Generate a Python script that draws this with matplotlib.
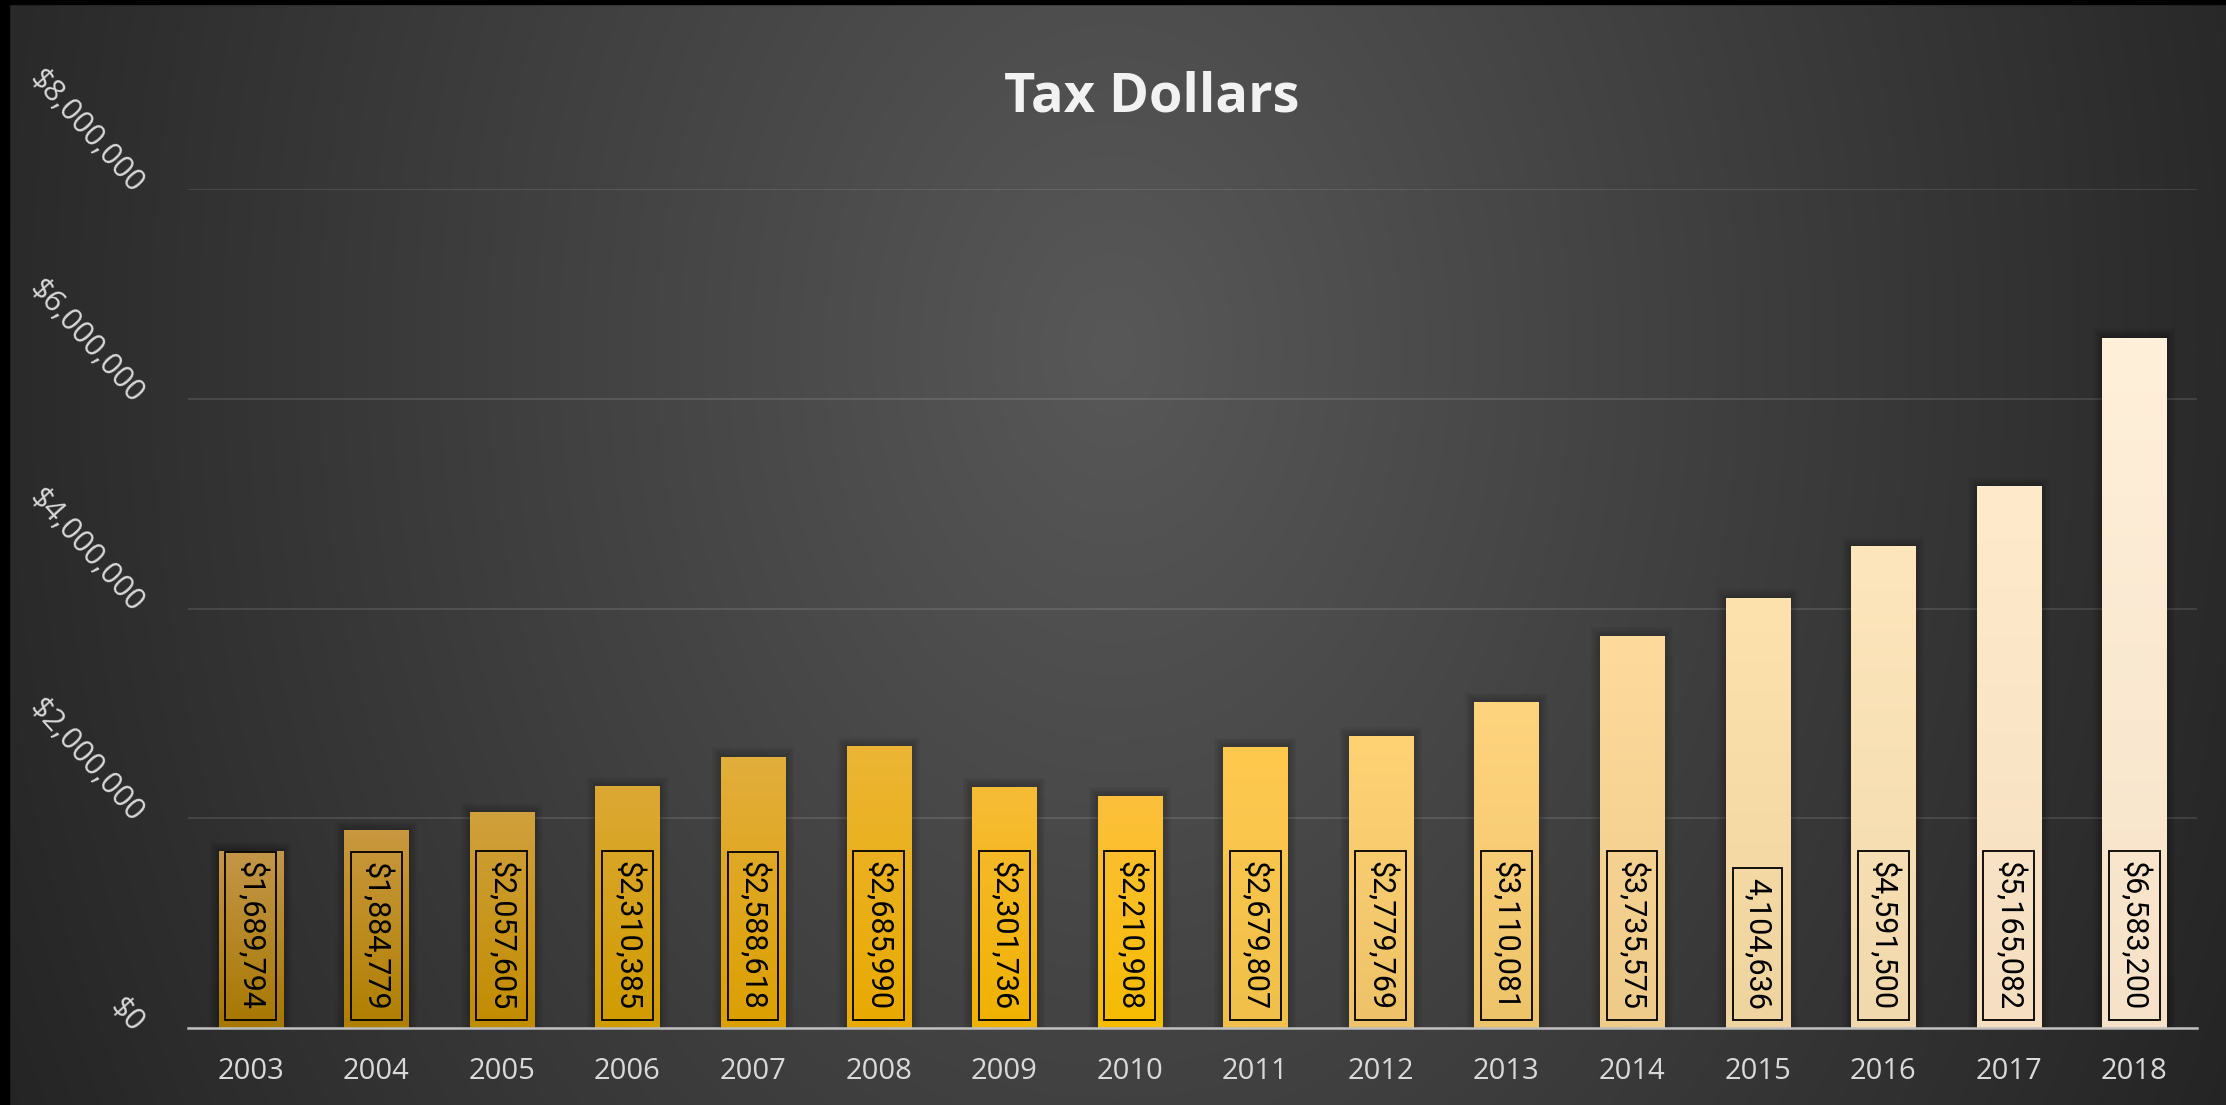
import numpy as np
import matplotlib
matplotlib.use('Agg')
import matplotlib.pyplot as plt
from matplotlib import font_manager
from matplotlib.patches import Rectangle
from matplotlib.colors import to_rgb

# ---------------- data ----------------
years = ['2003', '2004', '2005', '2006', '2007', '2008', '2009', '2010',
         '2011', '2012', '2013', '2014', '2015', '2016', '2017', '2018']
tax_dollars = [1689794, 1884779, 2057605, 2310385, 2588618, 2685990, 2301736, 2210908,
               2679807, 2779769, 3110081, 3735575, 4104636, 4591500, 5165082, 6583200]
bar_labels = ['$1,689,794', '$1,884,779', '$2,057,605', '$2,310,385', '$2,588,618',
              '$2,685,990', '$2,301,736', '$2,210,908', '$2,679,807', '$2,779,769',
              '$3,110,081', '$3,735,575', '4,104,636', '$4,591,500', '$5,165,082',
              '$6,583,200']
y_ticks = [0, 2000000, 4000000, 6000000, 8000000]
y_tick_labels = ['$0', '$2,000,000', '$4,000,000', '$6,000,000', '$8,000,000']
title = 'Tax Dollars'

# ---------------- styles ----------------
top_colors = ['#c4964a', '#c9983f', '#d0a03c', '#dca834', '#e2ae3c', '#ecb534',
              '#f7bc36', '#fdc03c', '#ffc94e', '#ffd274', '#ffd47e', '#fedb9d',
              '#fee2ae', '#fee6bc', '#ffeacc', '#fff0da']
bottom_colors = ['#a67800', '#b07f00', '#c28c00', '#d09c00', '#dca000', '#e8aa00',
                 '#f0b200', '#f5bc00', '#f0c04a', '#eec268', '#eec46a', '#eecb88',
                 '#f0d4a0', '#f2d9ad', '#f5dfc0', '#f6e2c8']


def has_font(name):
    try:
        font_manager.findfont(font_manager.FontProperties(family=name),
                              fallback_to_default=False)
        return True
    except Exception:
        return False


if has_font('Liberation Sans Narrow'):
    lab_font, lab_size = 'Liberation Sans Narrow', 26.5
else:
    lab_font, lab_size = 'Roboto', 22

W, H, DPI = 2226, 1105, 100
fig = plt.figure(figsize=(W / DPI, H / DPI), dpi=DPI)

# ---------- background radial gradient ----------
bg = fig.add_axes([0, 0, 1, 1])
bg.set_axis_off()
yy, xx = np.mgrid[0:H, 0:W]
d = np.sqrt((xx - 1113.0) ** 2 + ((yy - 350.0) * 0.74) ** 2) / 1083.0
v = np.clip(88 - 45 * d, 34, 90) / 255.0
bg.imshow(np.dstack([v, v, v]), extent=(0, 1, 0, 1), origin='upper',
          aspect='auto', interpolation='bilinear')
bg.set_xlim(0, 1)
bg.set_ylim(0, 1)
bg.add_patch(Rectangle((0, 0), 9 / W, 1, color='black', transform=bg.transAxes))
bg.add_patch(Rectangle((0, 1 - 4 / H), 1, 4 / H, color='black', transform=bg.transAxes))

# ---------- main axes ----------
ax_left, ax_right, ax_top, ax_bottom = 188, 2197, 189, 1028
ax = fig.add_axes([ax_left / W, 1 - ax_bottom / H, (ax_right - ax_left) / W,
                   (ax_bottom - ax_top) / H])
ax.set_facecolor('none')

x = np.arange(len(years))
bar_w = 0.51
px_x = 16 / (ax_right - ax_left)
px_y = 8e6 / (ax_bottom - ax_top)

# soft shadow
for k in range(1, 8):
    ax.bar(x, np.array(tax_dollars) + k * 1.3 * px_y, width=bar_w + 2 * k * 1.3 * px_x,
           color='black', alpha=0.03, linewidth=0, zorder=2)

bars = ax.bar(x, tax_dollars, width=bar_w, color='none', edgecolor='none', zorder=3)
N = 64
t = np.linspace(0, 1, N)[:, None]
for i, b in enumerate(bars):
    c_top = np.array(to_rgb(top_colors[i]))
    c_bot = np.array(to_rgb(bottom_colors[i]))
    arr = (1 - t) * c_top + t * c_bot
    arr = arr[:, None, :]
    x0, w, h = b.get_x(), b.get_width(), b.get_height()
    im = ax.imshow(arr, extent=(x0, x0 + w, 0, h), origin='upper', aspect='auto',
                   interpolation='bilinear', zorder=3)
    im.set_clip_path(b)

# value labels
pad_frac = 0.32
pad_px = pad_frac * lab_size * DPI / 72
for xi, lab in zip(x, bar_labels):
    ax.annotate(lab, xy=(xi, 0), xytext=(0, 8 + pad_px), textcoords='offset pixels',
                rotation=270, ha='center', va='bottom', fontsize=lab_size,
                family=lab_font, color='black', annotation_clip=False, zorder=5,
                bbox=dict(boxstyle=f'square,pad={pad_frac}', fc='none', ec='black',
                          lw=1.3))

ax.set_xlim(-0.5, len(years) - 0.5)
ax.set_ylim(0, 8e6)
ax.set_xticks(x, years)
ax.set_yticks(y_ticks, y_tick_labels)
ax.tick_params(axis='both', length=0, colors='#d9d9d9', labelsize=21)
ax.tick_params(axis='x', pad=21)
ax.tick_params(axis='y', pad=36)
for lab in ax.get_xticklabels() + ax.get_yticklabels():
    lab.set_family('Open Sans')
for lab in ax.get_yticklabels():
    lab.set_rotation(-48)
    lab.set_rotation_mode('anchor')
    lab.set_ha('right')
    lab.set_va('center')
    lab.set_fontsize(22)

ax.set_axisbelow(True)
ax.yaxis.grid(True, color='white', alpha=0.11, linewidth=1.5)
for s in ['left', 'right', 'top']:
    ax.spines[s].set_visible(False)
ax.spines['bottom'].set_color('#bfbfbf')
ax.spines['bottom'].set_linewidth(1.8)
ax.spines['bottom'].set_zorder(6)

fig.text(1152 / W, 1 - 111 / H, title, ha='center', va='baseline', fontsize=39,
         fontweight='bold', family='Open Sans', color='#f2f2f2')

fig.savefig('out.png', dpi=DPI)
